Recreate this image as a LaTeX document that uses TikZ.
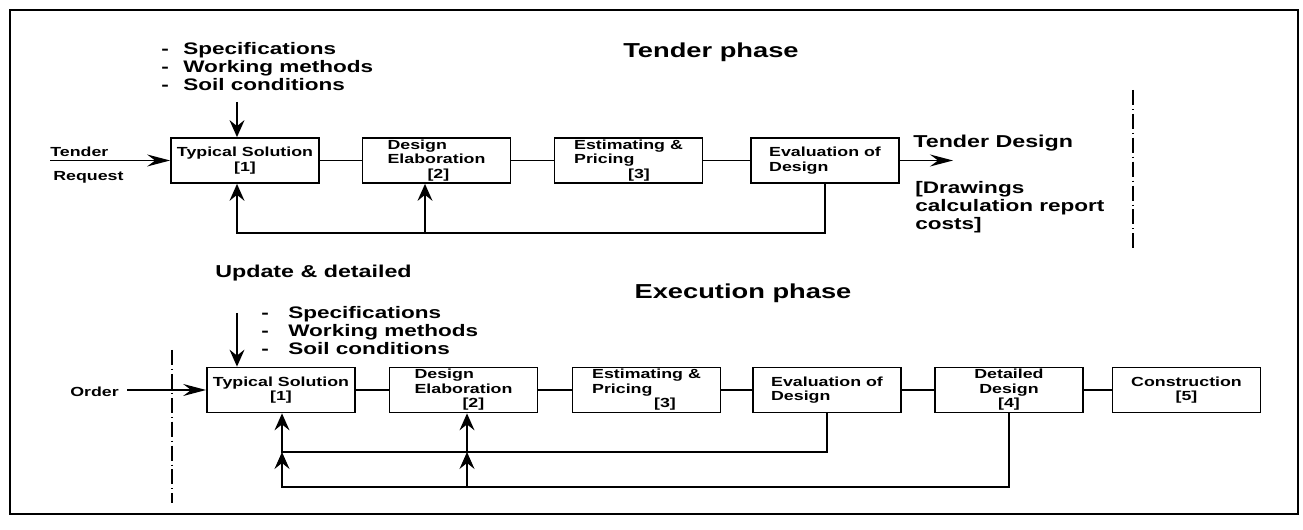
\documentclass[tikz,border=0pt]{standalone}
\usepackage{fontspec}
\newfontfamily\flowfont{Liberation Sans}[FakeStretch=1.35]
\usepackage{tikz}
\usetikzlibrary{arrows.meta}
\newcommand{\dashitem}[2][0.44cm]{\makebox[#1][l]{-}#2}

\begin{document}
\begin{tikzpicture}[font=\flowfont\bfseries,line cap=butt,
  box/.style={draw,line width=1pt,minimum width=2.96cm,minimum height=0.9cm,inner sep=1pt,align=left,font=\flowfont\bfseries\fontsize{7.5}{8.3}\selectfont},
  link/.style={line width=0.8pt},
  harrow/.style={line width=0.8pt,-{Stealth[length=4.6mm,width=2.4mm,inset=1.6mm]}},
  varrow/.style={line width=0.8pt,-{Stealth[length=3.4mm,width=3mm,inset=1.2mm]}},
  title/.style={inner sep=0pt,font=\flowfont\bfseries\fontsize{11.5}{13}\selectfont},
  list/.style={align=left,inner sep=0pt,font=\flowfont\bfseries\fontsize{9.5}{10.2}\selectfont},
  small/.style={inner sep=0pt,font=\flowfont\bfseries\fontsize{7.5}{9}\selectfont},
  phaseline/.style={line width=0.7pt,dash pattern=on 3mm off 0.8mm on 0.5pt off 0.8mm}]
\useasboundingbox (0,0) rectangle (26.06,10.6);
\draw[line width=1.3pt] (0.2,0.32) rectangle (25.96,10.4);
% tender phase
\node[title] (tphase) at (14.22,9.56) {Tender phase};
\node[list,anchor=north west] (tlist) at (3.22,9.76) {\dashitem{Specifications}\\\dashitem{Working methods}\\\dashitem{Soil conditions}};
\node[box,align=center] (t1) at (4.9,7.39) {Typical Solution\\{}[1]};
\node[box] (t2) at (8.73,7.39) {Design\\Elaboration\\\hspace*{0.8cm}[2]};
\node[box] (t3) at (12.57,7.39) {Estimating \&\\Pricing\\\hspace*{1.08cm}[3]};
\node[box] (t4) at (16.5,7.39) {Evaluation of\\Design};
\node[small,anchor=west] (treq1) at (1.0,7.56) {Tender};
\node[small,anchor=west] (treq2) at (1.06,7.06) {Request};
\coordinate (tin) at (1.0,7.39);
\coordinate (ttop) at (4.74,8.56);
\coordinate (tout) at (19.06,7.39);
\draw[harrow] (tin) -- (t1);
\draw[varrow] (ttop) -- (ttop |- t1.north);
\draw[link] (t1) -- (t2);
\draw[link] (t2) -- (t3);
\draw[link] (t3) -- (t4);
\draw[harrow] (t4) -- (tout);
\node[list,anchor=west,font=\flowfont\bfseries\fontsize{9.8}{10.5}\selectfont] (tdesign) at (18.26,7.74) {Tender Design};
\node[list,anchor=north west] (tdraw) at (18.3,6.98) {[Drawings\\calculation report\\costs]};
% tender feedback
\coordinate (tfa) at (4.74,5.94);
\coordinate (tfb) at (8.5,5.94);
\draw[varrow] (t4.south) |- (tfa) -- (tfa |- t1.south);
\draw[varrow] (tfb) -- (tfb |- t2.south);
\draw[phaseline] (22.66,8.8) -- (22.66,5.6);
% execution phase
\node[list,anchor=west,font=\flowfont\bfseries\fontsize{9.8}{10.5}\selectfont] (update) at (4.3,5.14) {Update \& detailed};
\node[title] (ephase) at (14.86,4.74) {Execution phase};
\node[list,anchor=north west] (elist) at (5.22,4.48) {\dashitem[0.54cm]{Specifications}\\\dashitem[0.54cm]{Working methods}\\\dashitem[0.54cm]{Soil conditions}};
\node[box,align=center] (e1) at (5.62,2.8) {Typical Solution\\{}[1]};
\node[box] (e2) at (9.27,2.8) {Design\\Elaboration\\\hspace*{0.96cm}[2]};
\node[box] (e3) at (12.93,2.8) {Estimating \&\\Pricing\\\hspace*{1.24cm}[3]};
\node[box] (e4) at (16.54,2.8) {Evaluation of\\Design};
\node[box,align=center] (e5) at (20.18,2.8) {Detailed\\Design\\{}[4]};
\node[box,align=center] (e6) at (23.73,2.8) {Construction\\{}[5]};
\node[small,anchor=west] (order) at (1.4,2.76) {Order};
\coordinate (ein) at (2.54,2.8);
\coordinate (etop) at (4.74,4.34);
\draw[harrow] (ein) -- (e1);
\draw[varrow] (etop) -- (etop |- e1.north);
\draw[link] (e1) -- (e2);
\draw[link] (e2) -- (e3);
\draw[link] (e3) -- (e4);
\draw[link] (e4) -- (e5);
\draw[link] (e5) -- (e6);
\draw[phaseline] (3.44,3.6) -- (3.44,0.54);
% execution feedback
\coordinate (efa) at (5.64,1.56);
\coordinate (efb) at (9.34,1.56);
\coordinate (eoa) at (5.64,0.86);
\coordinate (eob) at (9.34,0.86);
\draw[varrow] (e4.south) |- (efa) -- (efa |- e1.south);
\draw[varrow] (efb) -- (efb |- e2.south);
\draw[varrow] (e5.south) |- (eoa) -- (efa);
\draw[varrow] (eob) -- (efb);
\end{tikzpicture}
\end{document}
